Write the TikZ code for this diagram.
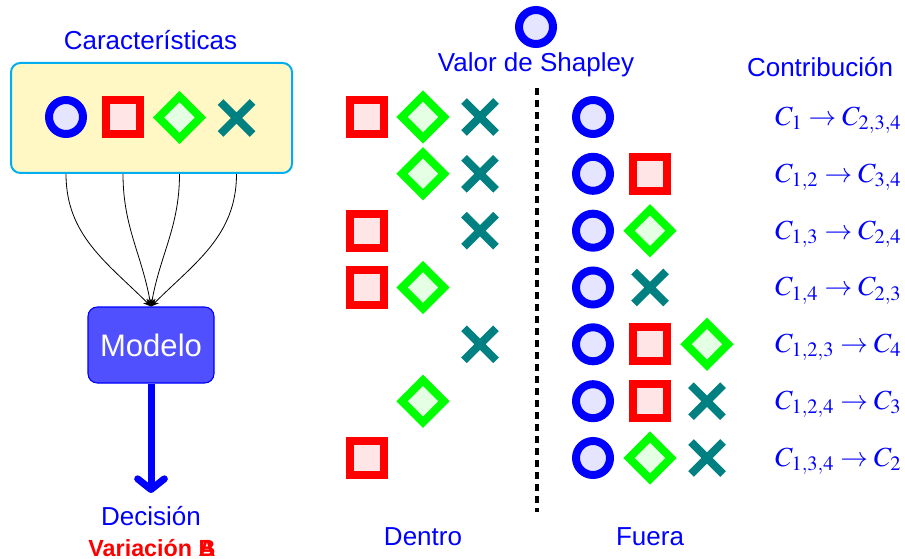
\documentclass[tikz,border=0pt]{standalone}
\usepackage{mathptmx}
\usepackage[no-math]{fontspec}
\setsansfont{Liberation Sans}
\usetikzlibrary{shapes.geometric,shapes.misc,arrows.meta}
\definecolor{boxfill}{RGB}{255,248,196}
\definecolor{boxline}{RGB}{0,174,239}
\definecolor{modelfill}{RGB}{80,80,255}
\begin{document}
\begin{tikzpicture}[x=0.75pt,y=-0.75pt,
  lbl/.style={text=blue,font=\sffamily\fontsize{19.5}{23}\selectfont,anchor=base,inner sep=0pt},
  circ/.style={circle,draw=blue,fill=blue!10,line width=6pt,minimum size=25.5pt,inner sep=0pt},
  sq/.style={rectangle,draw=red,fill=red!10,line width=6pt,minimum size=25.5pt,inner sep=0pt},
  dia/.style={diamond,draw=green,fill=green!10,line width=6pt,minimum size=34pt,inner sep=0pt,aspect=1},
  xx/.style={cross out,draw=teal,line width=6pt,minimum size=24pt,inner sep=0pt,outer sep=0pt},
  contrib/.style={text=blue,font=\fontsize{20.7}{24}\selectfont,anchor=base west,inner sep=0pt},
  feed/.style={line width=0.6pt,-{Stealth[length=6pt,width=5pt]}},
]
\useasboundingbox (0,0) rectangle (905,559);

% features box
\node[lbl] (featlbl) at (150.5,50) {Características};
\node[draw=boxline,fill=boxfill,line width=1.5pt,rounded corners=7pt,
      minimum width=210.75pt,minimum height=82.5pt] (feat) at (151.5,118) {};
\node[circ] (f1) at (66,117) {};
\node[sq]   (f2) at (123,117) {};
\node[dia]  (f3) at (179.5,117.5) {};
\node[xx]   (f4) at (236.5,118) {};

% model
\node[draw=blue,fill=modelfill,line width=0.8pt,rounded corners=7pt,
      minimum width=94.5pt,minimum height=57pt,text=white,
      font=\sffamily\fontsize{23.3}{28}\selectfont] (model) at (151,345) {Modelo};

\draw[feed] (f1 |- feat.south) to[out=-90,in=135] (model.north);
\draw[feed] (f2 |- feat.south) to[out=-90,in=100] (model.north);
\draw[feed] (f3 |- feat.south) to[out=-90,in=80] (model.north);
\draw[feed] (f4 |- feat.south) to[out=-90,in=45] (model.north);

% decision
\node[lbl] (dec) at (151,525) {Decisión};
\node[text=red,font=\sffamily\bfseries\fontsize{17.5}{20}\selectfont,anchor=base,inner sep=0pt]
  (var) at (152,556) {Variación \rlap{A}B};
\coordinate (dectip) at (151,493);
\draw[blue,line width=5.25pt,-{Straight Barb[length=8pt,width=20pt,round]}] (model.south) -- (dectip);

% Shapley value header
\node[circ] (shap) at (536,27) {};
\node[lbl] (shaplbl) at (536,72) {Valor de Shapley};
\coordinate (dtop) at (537,88);
\coordinate (dbot) at (537,512);
\draw[line width=3pt,dash pattern=on 5.25pt off 3.75pt] (dtop) -- (dbot);
\node[lbl] (contlbl) at (820,77) {Contribución};

% coalitions inside
\node[sq]  (i11) at (367,117) {};
\node[dia] (i12) at (423,117) {};
\node[xx]  (i13) at (480,117) {};
\node[dia] (i22) at (423,173.8) {};
\node[xx]  (i23) at (480,173.8) {};
\node[sq]  (i31) at (367,230.7) {};
\node[xx]  (i33) at (480,230.7) {};
\node[sq]  (i41) at (367,287.5) {};
\node[dia] (i42) at (423,287.5) {};
\node[xx]  (i53) at (480,344.3) {};
\node[dia] (i62) at (423,401.2) {};
\node[sq]  (i71) at (367,458) {};

% coalitions outside
\node[circ] (o11) at (593,117) {};
\node[circ] (o21) at (593,173.8) {};
\node[sq]   (o22) at (650,173.8) {};
\node[circ] (o31) at (593,230.7) {};
\node[dia]  (o32) at (650,230.7) {};
\node[circ] (o41) at (593,287.5) {};
\node[xx]   (o42) at (650,287.5) {};
\node[circ] (o51) at (593,344.3) {};
\node[sq]   (o52) at (650,344.3) {};
\node[dia]  (o53) at (707,344.3) {};
\node[circ] (o61) at (593,401.2) {};
\node[sq]   (o62) at (650,401.2) {};
\node[xx]   (o63) at (707,401.2) {};
\node[circ] (o71) at (593,458) {};
\node[dia]  (o72) at (650,458) {};
\node[xx]   (o73) at (707,458) {};

\node[lbl] (inlbl) at (423,545) {Dentro};
\node[lbl] (outlbl) at (650,545) {Fuera};

% contributions
\node[contrib] (c1) at (775,125.5) {$C_{1} \rightarrow C_{2,3,4}$};
\node[contrib] (c2) at (775,182.3) {$C_{1,2} \rightarrow C_{3,4}$};
\node[contrib] (c3) at (775,239.2) {$C_{1,3} \rightarrow C_{2,4}$};
\node[contrib] (c4) at (775,296) {$C_{1,4} \rightarrow C_{2,3}$};
\node[contrib] (c5) at (775,352.8) {$C_{1,2,3} \rightarrow C_{4}$};
\node[contrib] (c6) at (775,409.7) {$C_{1,2,4} \rightarrow C_{3}$};
\node[contrib] (c7) at (775,466.5) {$C_{1,3,4} \rightarrow C_{2}$};
\end{tikzpicture}
\end{document}
